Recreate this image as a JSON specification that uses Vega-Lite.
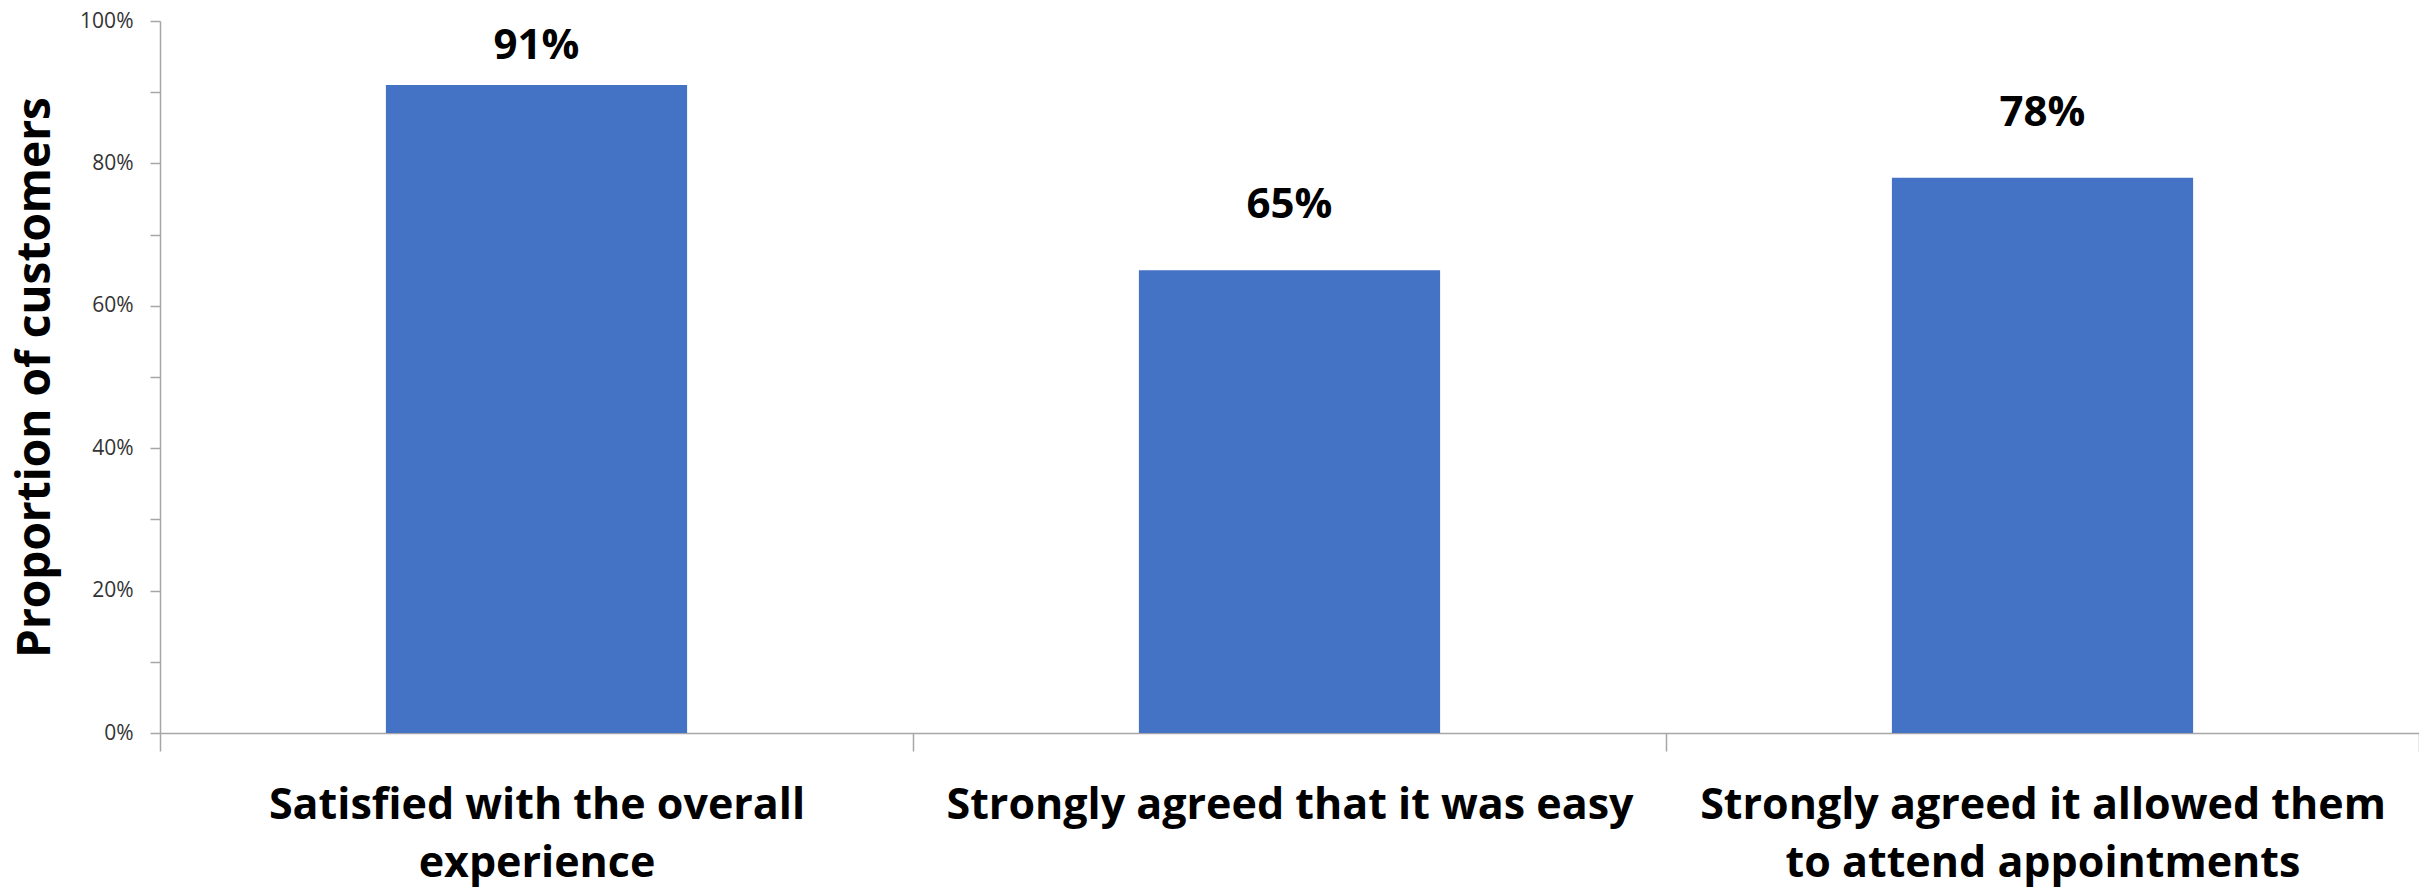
{
  "$schema": "https://vega.github.io/schema/vega-lite/v6.json",
  "width": 2259,
  "height": 712,
  "autosize": {"type": "none"},
  "padding": {"left": 160, "top": 21, "right": 0, "bottom": 161},
  "background": "white",
  "config": {"view": {"stroke": null}, "font": "Open Sans"},
  "data": {"values": [
    {"category": "Satisfied with the overall experience", "value": 0.91},
    {"category": "Strongly agreed that it was easy", "value": 0.65},
    {"category": "Strongly agreed it allowed them to attend appointments", "value": 0.78}
  ]},
  "encoding": {
    "x": {
      "field": "category", "type": "nominal", "sort": null,
      "scale": {"paddingInner": 0, "paddingOuter": 0},
      "axis": {
        "title": null, "labelAngle": 0, "domainColor": "#A6A6A6", "domainWidth": 1.5,
        "tickColor": "#A6A6A6", "tickWidth": 1.5, "tickSize": 18, "tickBand": "extent",
        "labelFont": "Open Sans", "labelFontWeight": "bold", "labelFontSize": 43, "labelColor": "#000000",
        "labelPadding": 33, "labelLineHeight": 58, "labelBaseline": "top", "labelLimit": 0,
        "labelExpr": "datum.value == 'Satisfied with the overall experience' ? ['Satisfied with the overall', 'experience'] : datum.value == 'Strongly agreed it allowed them to attend appointments' ? ['Strongly agreed it allowed them', 'to attend appointments'] : datum.value"
      }
    },
    "y": {
      "field": "value", "type": "quantitative",
      "scale": {"domain": [0, 1], "nice": false},
      "axis": {
        "title": "Proportion of customers", "titleFont": "Open Sans", "titleFontWeight": "bold", "titleFontSize": 46,
        "titleColor": "#000000", "titleX": -125, "titleY": 356, "titleAngle": -90, "titleBaseline": "middle", "titleAlign": "center",
        "values": [0, 0.1, 0.2, 0.3, 0.4, 0.5, 0.6, 0.7, 0.8, 0.9, 1.0],
        "labelExpr": "round(datum.value * 10) % 2 == 0 ? format(datum.value, '.0%') : ''",
        "grid": false, "domainColor": "#A6A6A6", "domainWidth": 1.5, "tickColor": "#A6A6A6", "tickWidth": 1.5, "tickSize": 10,
        "labelFont": "Open Sans", "labelFontSize": 21, "labelColor": "#333333", "labelPadding": 17
      }
    }
  },
  "layer": [
    {"mark": {"type": "bar", "color": "#4472C4", "width": {"band": 0.4}}},
    {
      "transform": [{"filter": "datum.value < 0.85"}],
      "mark": {"type": "text", "baseline": "middle", "dy": -65, "font": "Open Sans", "fontWeight": "bold", "fontSize": 42, "color": "#000000"},
      "encoding": {"text": {"field": "value", "type": "quantitative", "format": ".0%"}}
    },
    {
      "transform": [{"filter": "datum.value >= 0.85"}],
      "mark": {"type": "text", "baseline": "middle", "dy": -39, "font": "Open Sans", "fontWeight": "bold", "fontSize": 42, "color": "#000000"},
      "encoding": {"text": {"field": "value", "type": "quantitative", "format": ".0%"}}
    }
  ]
}
